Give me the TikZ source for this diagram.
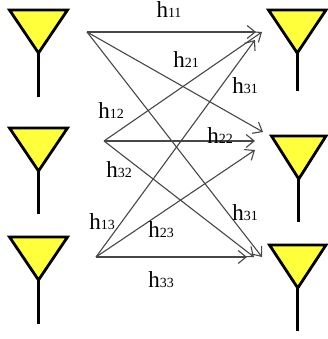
\documentclass[tikz,border=0pt]{standalone}
\usepackage{fontspec}
\setmainfont{Liberation Serif}
\usetikzlibrary{arrows.meta}
\definecolor{antfill}{HTML}{FFFF3C}
\tikzset{
  link/.style={draw=black!72,line width=1.1pt,-{Straight Barb[length=8pt,width=13pt,line width=1.1pt]}},
  ant/.style={draw=black,line width=2.8pt,fill=antfill,line join=miter},
  stem/.style={draw=black,line width=3pt},
  lab/.style={inner sep=0pt,anchor=base,text=black}
}
\newcommand{\hh}[1]{{\fontsize{23pt}{23pt}\selectfont h}{\fontsize{14pt}{14pt}\selectfont #1}}
\newcommand{\antenna}[4]{% left x, right x, top y, bottom y
  \pgfmathsetmacro{\cx}{(#1+#2)/2}
  \draw[stem] (\cx,#3+43) -- (\cx,#4);
  \draw[ant] (#1,#3) -- (#2,#3) -- (\cx,#3+43) -- cycle;
}
\begin{document}
\begin{tikzpicture}[x=1pt,y=-1pt]
\useasboundingbox (0,0) rectangle (327,339);
\antenna{9.5}{67.5}{10}{97}
\antenna{9.5}{67.5}{128}{214}
\antenna{9.5}{67.5}{237}{324}
\antenna{268.5}{326}{10}{91}
\antenna{271.5}{326}{136}{222}
\antenna{269.5}{326}{245}{331}
\coordinate (t1) at (87,32);
\coordinate (t2) at (104,141);
\coordinate (t3) at (96,257);
\coordinate (r11) at (256,32);
\coordinate (r12) at (263,132);
\coordinate (r13) at (262,257);
\coordinate (r21) at (262,32);
\coordinate (r22) at (255,141);
\coordinate (r23) at (254,257);
\coordinate (r31) at (255,40);
\coordinate (r32) at (255,150);
\coordinate (r33) at (247,257);
\foreach \a/\b in {t1/r11,t1/r12,t1/r13,t2/r21,t2/r22,t2/r23,t3/r31,t3/r32,t3/r33}
  \draw[link] (\a) -- (\b);
\node[lab] (l11) at (169,18) {\hh{11}};
\node[lab] (l21) at (186,68) {\hh{21}};
\node[lab] (l31) at (245,94) {\hh{31}};
\node[lab] (l12) at (111,119) {\hh{12}};
\node[lab] (l22) at (220,143) {\hh{22}};
\node[lab] (l32) at (119,177) {\hh{32}};
\node[lab] (l13) at (102,229) {\hh{13}};
\node[lab] (l23) at (161,237) {\hh{23}};
\node[lab] (l33) at (161,287) {\hh{33}};
\node[lab] (l31b) at (245,220) {\hh{31}};
\end{tikzpicture}
\end{document}
